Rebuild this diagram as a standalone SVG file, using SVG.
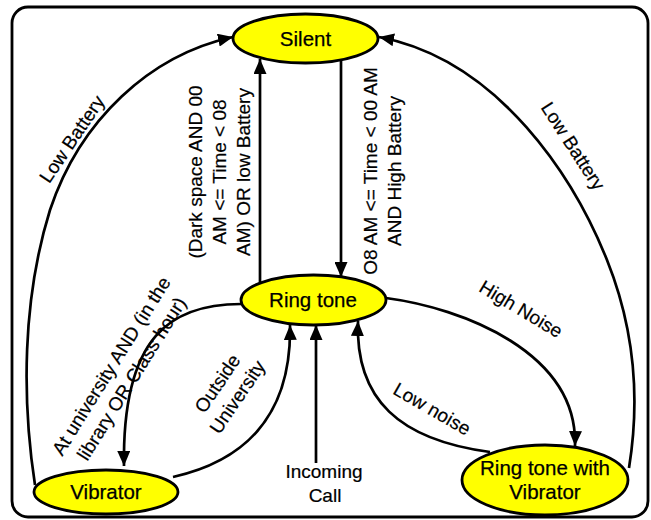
<svg xmlns="http://www.w3.org/2000/svg" width="651" height="520" viewBox="0 0 651 520">
<defs>
<marker id="arr" markerUnits="userSpaceOnUse" markerWidth="16" markerHeight="13" refX="15" refY="6.5" orient="auto">
<path d="M0,0 L15,6.5 L0,13 z" fill="#000"/>
</marker>
<style>
.node ellipse{fill:#ffff00;stroke:#000;stroke-width:2.8}
.node text{font-family:"Liberation Sans",Arial,sans-serif;font-size:20.5px;text-anchor:middle;dominant-baseline:central;fill:#000;stroke:#000;stroke-width:0.25}
.edge{fill:none;stroke:#000;stroke-width:2.7;marker-end:url(#arr)}
.lbl{font-family:"Liberation Sans",Arial,sans-serif;font-size:19px;text-anchor:middle;dominant-baseline:central;fill:#000;stroke:#000;stroke-width:0.2}
</style>
</defs>
<rect x="12" y="7" width="636" height="510" rx="16" fill="#fff" stroke="#000" stroke-width="2.8"/>
<g id="connectors">
<path class="edge" d="M260,283 L260,59"/>
<path class="edge" d="M341,60 L341,277"/>
<path class="edge" d="M316,463 L316,325"/>
<path class="edge" d="M241,304 C172,304 122,335 124,466"/>
<path class="edge" d="M173,477 C240,462 292,420 290,325"/>
<path class="edge" d="M386,298 C462,308 578,352 575,446"/>
<path class="edge" d="M490,452 C400,440 355,400 358,321"/>
<path class="edge" d="M35,485 C22,400 22,300 50,210 C80,120 150,55 233,37"/>
<path class="edge" d="M629,468 C640,400 635,330 607,260 C575,180 500,60 379,37"/>
</g>
<g id="labels">
<text class="lbl" transform="translate(219,172) rotate(-90)"><tspan x="0" y="-24">(Dark space AND 00</tspan><tspan x="0" y="0">AM &lt;= Time &lt; 08</tspan><tspan x="0" y="24">AM) OR low Battery</tspan></text>
<text class="lbl" transform="translate(382,171) rotate(-90)"><tspan x="0" y="-12">O8 AM &lt;= Time &lt; 00 AM</tspan><tspan x="0" y="12">AND High Battery</tspan></text>
<text class="lbl" transform="translate(72,139) rotate(-56)">Low Battery</text>
<text class="lbl" transform="translate(573,146) rotate(57)">Low Battery</text>
<text class="lbl" transform="translate(121,372) rotate(-58)"><tspan x="0" y="-12">At university AND (in the</tspan><tspan x="0" y="12">library OR Class hour)</tspan></text>
<text class="lbl" transform="translate(227,390) rotate(-56)"><tspan x="0" y="-12">Outside</tspan><tspan x="0" y="12">University</tspan></text>
<text class="lbl" transform="translate(521,309) rotate(31)">High Noise</text>
<text class="lbl" transform="translate(432,409) rotate(30)">Low noise</text>
<text class="lbl"><tspan x="324" y="471">Incoming</tspan><tspan x="325" y="495">Call</tspan></text>
</g>
<g id="silent" class="node"><ellipse cx="305.5" cy="38.5" rx="72.5" ry="24.5"/><text x="305.5" y="38">Silent</text></g>
<g id="ringtone" class="node"><ellipse cx="313.5" cy="300" rx="72.5" ry="25"/><text x="313" y="299">Ring tone</text></g>
<g id="vibrator" class="node"><ellipse cx="106" cy="492" rx="72" ry="22"/><text x="106" y="491">Vibrator</text></g>
<g id="ringvib" class="node"><ellipse cx="545" cy="480" rx="83" ry="35"/><text x="545"><tspan x="545" y="467">Ring tone with</tspan><tspan x="545" y="491">Vibrator</tspan></text></g>
</svg>
